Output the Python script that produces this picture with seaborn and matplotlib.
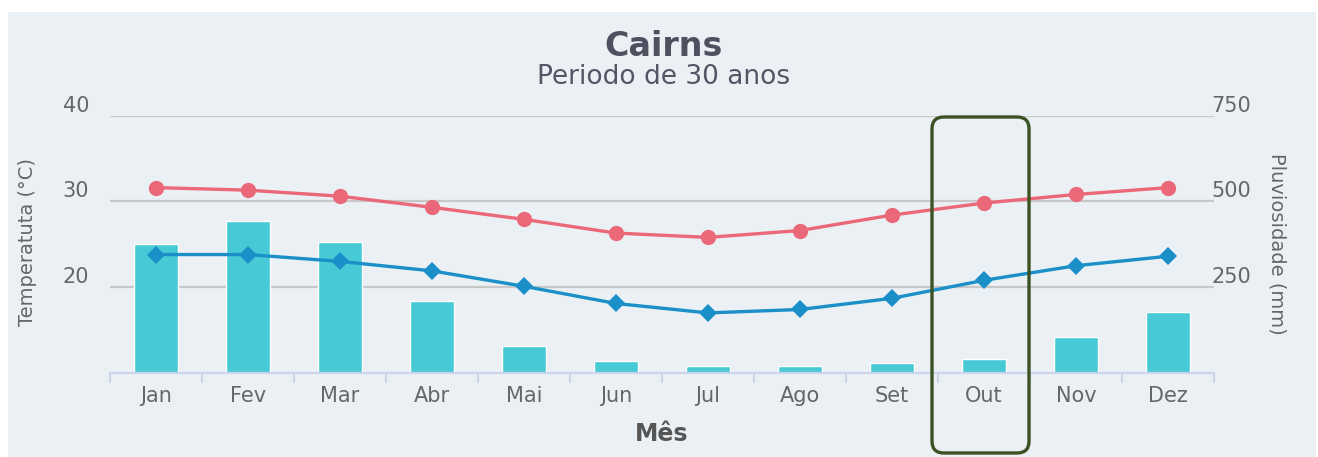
import numpy as np
import matplotlib.pyplot as plt
import matplotlib.transforms as mtransforms
from matplotlib.patches import Rectangle, FancyBboxPatch
import pandas as pd
import seaborn as sns

# Dados climáticos de Cairns (média de 30 anos)
meses = ["Jan", "Fev", "Mar", "Abr", "Mai", "Jun", "Jul", "Ago", "Set", "Out", "Nov", "Dez"]
temp_max = [31.6, 31.3, 30.6, 29.3, 27.9, 26.3, 25.8, 26.6, 28.4, 29.8, 30.8, 31.6]
temp_min = [23.8, 23.8, 23.0, 21.9, 20.1, 18.1, 17.0, 17.4, 18.7, 20.8, 22.5, 23.6]
chuva = [375, 443, 381, 210, 78, 35, 21, 21, 28, 41, 104, 178]
ticks_temp = [20, 30, 40]
ticks_chuva = [250, 500, 750]

df = pd.DataFrame({"mes": meses, "tmax": temp_max, "tmin": temp_min, "chuva": chuva})

W, H = 1318, 457
fundo = "#ebf0f5"
cinza = "#666666"

sns.set_theme(style="white")
plt.rcParams["font.family"] = ["DejaVu Sans"]

fig = plt.figure(figsize=(W / 100, H / 100), dpi=100, facecolor="white")
# painel de fundo
fig.patches.append(Rectangle((8 / W, 0), (1316 - 8) / W, (H - 12) / H,
                             transform=fig.transFigure, facecolor=fundo,
                             edgecolor="none", zorder=-10))

ax2 = fig.add_axes([110 / W, (H - 373) / H, (1214 - 110) / W, (373 - 115.5) / H])
ax = ax2.twinx()
ax.set_zorder(ax2.get_zorder() + 1)
ax.patch.set_visible(False)
ax2.patch.set_visible(False)

x = np.arange(len(meses))

# barras de pluviosidade (eixo direito)
sns.barplot(data=df, x="mes", y="chuva", ax=ax2, color="#47cad5", width=0.47,
            saturation=1, zorder=2)
ax2.set_ylim(0, 750)
ax2.set_yticks(ticks_chuva)
ax2.yaxis.grid(True, color="#c8c8c8", linewidth=1.6)
ax2.set_axisbelow(True)
ax2.set_xlim(-0.5, 11.5)

# linhas de temperatura (eixo esquerdo)
sns.lineplot(x=x, y=df["tmax"], ax=ax, color="#ea6878", linewidth=2.4,
             marker="o", markersize=11, markeredgewidth=0, zorder=4)
sns.lineplot(x=x, y=df["tmin"], ax=ax, color="#1a8fc8", linewidth=2.4,
             marker="D", markersize=9, markeredgewidth=0, zorder=4)
ax.set_ylim(10, 40)
ax.set_yticks(ticks_temp)
ax.set_xlim(-0.5, 11.5)

# eixos: temperatura à esquerda, chuva à direita
ax.yaxis.tick_left()
ax.yaxis.set_label_position("left")
ax2.yaxis.tick_right()
ax2.yaxis.set_label_position("right")

for a in (ax, ax2):
    for s in a.spines.values():
        s.set_visible(False)
ax2.spines["bottom"].set_visible(True)
ax2.spines["bottom"].set_color("#ccd6eb")
ax2.spines["bottom"].set_linewidth(1.6)

ax.tick_params(axis="y", length=0, pad=15, labelsize=15, labelcolor=cinza)
ax2.tick_params(axis="y", length=0, pad=-2, labelsize=15, labelcolor=cinza)
up = mtransforms.ScaledTranslation(0, 12 / 100, fig.dpi_scale_trans)
for lab in ax.get_yticklabels() + ax2.get_yticklabels():
    lab.set_transform(lab.get_transform() + up)

# ticks do eixo x entre categorias
ax2.set_xticks(x)
ax2.set_xticklabels(meses)
ax2.set_xticks(np.arange(-0.5, 12, 1), minor=True)
ax2.tick_params(axis="x", which="major", length=0, pad=9, labelsize=15, labelcolor=cinza)
ax2.tick_params(axis="x", which="minor", length=7, width=1.6, color="#ccd6eb", bottom=True)
ax.tick_params(axis="x", which="both", bottom=False, top=False,
               labelbottom=False, labeltop=False)

ax.set_ylabel("Temperatuta (°C)", fontsize=14, color=cinza)
ax.yaxis.set_label_coords(-0.066, 0.51)
ax2.set_ylabel("Pluviosidade (mm)", fontsize=14, color=cinza, rotation=-90)
ax2.yaxis.set_label_coords(1.066, 0.5)
ax2.set_xlabel("Mês", fontsize=17, color="#555555", fontweight="bold")
ax2.xaxis.set_label_coords(0.5, -0.19)

fig.text(664 / W, 1 - 46 / H, "Cairns", ha="center", va="center",
         fontsize=24, color="#4f5060", fontweight="bold")
fig.text(664 / W, 1 - 77 / H, "Periodo de 30 anos", ha="center", va="center",
         fontsize=19, color="#555566")

# destaque no mês de Outubro
fig.patches.append(FancyBboxPatch((932 / W, 1 - 453 / H), (1029 - 932) / W, (453 - 117) / H,
                                  boxstyle="round,pad=0,rounding_size=0.009",
                                  transform=fig.transFigure, facecolor="none",
                                  edgecolor="#3b5323", linewidth=2.4, zorder=10,
                                  mutation_aspect=W / H))

fig.savefig("out.png", dpi=100, facecolor="white")
